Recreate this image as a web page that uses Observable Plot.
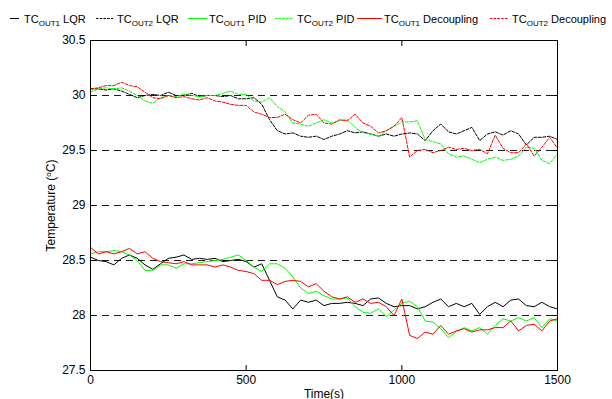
<!DOCTYPE html>
<html>
<head>
<meta charset="utf-8">
<script src="https://cdn.jsdelivr.net/npm/d3@7"></script>
<script src="https://cdn.jsdelivr.net/npm/@observablehq/plot@0.6"></script>
<style>
  body { margin: 0; background: #fff; font-family: "Liberation Sans", Arial, sans-serif; }
  #wrap { width: 612px; height: 399px; overflow: hidden; background: #fff; }
  #legend { display: block; }
  #chart svg { display: block; }
</style>
</head>
<body>
<div id="wrap">
  <svg id="legend" width="612" height="30"></svg>
  <div id="chart"></div>
</div>
<script>
// ---- data ----
const timeSec = [0,25,50,75,100,125,150,175,200,225,250,275,300,325,350,375,400,425,450,475,
  500,525,550,575,600,625,650,675,700,725,750,775,800,825,850,875,900,925,950,975,1000,
  1025,1050,1075,1100,1125,1150,1175,1200,1225,1250,1275,1300,1325,1350,1375,1400,1425,1450,1475,1500];

const out1LQR = [28.53,28.50,28.49,28.46,28.52,28.55,28.52,28.46,28.42,28.47,28.52,28.53,28.55,28.51,28.52,28.51,28.52,28.49,28.50,28.51,
  28.49,28.44,28.47,28.32,28.17,28.14,28.06,28.14,28.12,28.14,28.09,28.11,28.11,28.12,28.11,28.09,28.15,28.16,28.11,28.08,28.09,
  28.09,28.06,28.08,28.12,28.15,28.08,28.11,28.08,28.11,28.01,28.08,28.12,28.08,28.14,28.15,28.09,28.08,28.12,28.08,28.06];

const out2LQR = [30.06,30.06,30.05,30.06,30.04,30.01,29.98,30.00,30.01,30.00,30.03,30.00,30.00,30.02,29.99,30.00,30.00,29.99,30.00,29.97,
  29.97,29.98,29.92,29.78,29.68,29.65,29.66,29.63,29.62,29.63,29.60,29.63,29.65,29.68,29.66,29.67,29.65,29.63,29.65,29.63,29.65,
  29.66,29.65,29.59,29.68,29.74,29.67,29.65,29.68,29.71,29.59,29.65,29.67,29.64,29.68,29.65,29.55,29.62,29.62,29.63,29.60];

const out1PID = [28.56,28.58,28.58,28.59,28.58,28.55,28.50,28.41,28.41,28.46,28.46,28.43,28.47,28.47,28.48,28.49,28.50,28.51,28.53,28.55,
  28.50,28.44,28.40,28.47,28.47,28.43,28.35,28.25,28.20,28.22,28.18,28.15,28.15,28.16,28.08,28.03,28.02,28.06,27.99,28.05,28.11,
  28.13,28.08,27.95,27.94,27.88,27.80,27.85,27.89,27.86,27.89,27.83,27.91,27.97,27.95,27.98,27.95,27.98,27.89,27.97,27.95];

const out2PID = [30.03,30.06,30.07,30.06,30.07,30.04,30.00,29.95,29.93,29.98,30.00,29.99,30.01,30.00,29.99,30.00,30.00,30.02,30.04,30.01,
  30.01,29.95,29.94,29.98,29.90,29.85,29.75,29.74,29.72,29.75,29.78,29.75,29.77,29.78,29.71,29.66,29.65,29.63,29.68,29.72,29.76,
  29.76,29.77,29.60,29.58,29.56,29.47,29.44,29.45,29.42,29.39,29.42,29.44,29.41,29.42,29.45,29.53,29.52,29.41,29.38,29.47];

const out1Dec = [28.62,28.56,28.58,28.56,28.58,28.61,28.56,28.58,28.52,28.49,28.48,28.47,28.49,28.46,28.46,28.46,28.44,28.46,28.44,28.41,
  28.40,28.38,28.32,28.32,28.28,28.31,28.32,28.31,28.26,28.29,28.22,28.17,28.15,28.17,28.12,28.15,28.11,28.12,28.08,28.00,28.15,
  27.82,27.79,27.85,27.83,27.91,27.83,27.86,27.88,27.85,27.87,27.87,27.89,27.89,27.95,27.86,27.91,27.92,27.86,27.95,27.97];

const out2Dec = [30.06,30.07,30.09,30.09,30.12,30.09,30.08,30.03,29.98,29.97,30.00,29.98,29.99,29.97,29.96,29.98,29.95,29.94,29.92,29.91,
  29.91,29.85,29.83,29.80,29.80,29.83,29.78,29.75,29.82,29.83,29.75,29.74,29.78,29.77,29.83,29.75,29.72,29.66,29.68,29.72,29.80,
  29.44,29.50,29.51,29.48,29.50,29.53,29.51,29.52,29.50,29.51,29.47,29.64,29.52,29.48,29.48,29.56,29.45,29.53,29.62,29.52];

const seriesNames = ["OUT1 LQR", "OUT2 LQR", "OUT1 PID", "OUT2 PID", "OUT1 Decoupling", "OUT2 Decoupling"];
const seriesSub = ["OUT1", "OUT2", "OUT1", "OUT2", "OUT1", "OUT2"];
const seriesMethod = ["LQR", "LQR", "PID", "PID", "Decoupling", "Decoupling"];
const seriesValues = [out1LQR, out2LQR, out1PID, out2PID, out1Dec, out2Dec];
const seriesColors = ["#000000", "#000000", "#00ff00", "#00ff00", "#ff0000", "#ff0000"];
const seriesDashed = [false, true, false, true, false, true];

const xTicks = [0, 500, 1000, 1500];
const xTickLabels = ["0", "500", "1000", "1500"];
const yTicks = [27.5, 28, 28.5, 29, 29.5, 30, 30.5];
const yTickLabels = ["27.5", "28", "28.5", "29", "29.5", "30", "30.5"];
const gridValues = [28, 28.5, 29, 29.5, 30];

// ---- rows ----
const rows = [];
seriesValues.forEach((vals, s) => {
  vals.forEach((v, i) => rows.push({t: timeSec[i], v, s}));
});

const FONT = '"Liberation Sans", Arial, sans-serif';

// ---- legend ----
const legendPos = [
  {x1: 10, x2: 19, tx: 24},
  {x1: 96, x2: 113, tx: 117},
  {x1: 188, x2: 207, tx: 209},
  {x1: 275, x2: 293, tx: 297},
  {x1: 357, x2: 382, tx: 384},
  {x1: 490, x2: 508, tx: 512}
];
const NS = "http://www.w3.org/2000/svg";
const leg = document.getElementById("legend");
const order = [0, 1, 2, 3, 4, 5];
order.forEach((s, k) => {
  const p = legendPos[k];
  const ln = document.createElementNS(NS, "line");
  ln.setAttribute("x1", p.x1); ln.setAttribute("x2", p.x2);
  ln.setAttribute("y1", 18.5); ln.setAttribute("y2", 18.5);
  ln.setAttribute("stroke", seriesColors[s]);
  ln.setAttribute("stroke-width", 1);
  if (seriesDashed[s]) ln.setAttribute("stroke-dasharray", "2.5,1.2");
  leg.appendChild(ln);
  const tx = document.createElementNS(NS, "text");
  tx.setAttribute("x", p.tx); tx.setAttribute("y", 22.5);
  tx.setAttribute("font-family", FONT);
  tx.setAttribute("font-size", 11);
  tx.setAttribute("fill", "#000");
  tx.appendChild(document.createTextNode("TC"));
  const sub = document.createElementNS(NS, "tspan");
  sub.setAttribute("dy", 3); sub.setAttribute("font-size", 8);
  sub.textContent = seriesSub[s];
  tx.appendChild(sub);
  const rest = document.createElementNS(NS, "tspan");
  rest.setAttribute("dy", -3);
  rest.textContent = " " + seriesMethod[s];
  tx.appendChild(rest);
  leg.appendChild(tx);
});

// ---- chart ----
const lineMarks = [0, 1, 2, 3, 4, 5].map(s =>
  Plot.line(rows.filter(r => r.s === s), {
    x: "t", y: "v",
    stroke: seriesColors[s],
    strokeWidth: 1,
    strokeDasharray: seriesDashed[s] ? "3,1.5" : null
  })
);

const plot = Plot.plot({
  width: 612,
  height: 369,
  marginLeft: 90,
  marginRight: 55,
  marginTop: 10,
  marginBottom: 29,
  style: {fontFamily: FONT, fontSize: "12px", color: "#000", background: "#fff", overflow: "visible"},
  x: {domain: [0, 1500]},
  y: {domain: [27.5, 30.5]},
  marks: [
    Plot.gridY(gridValues, {stroke: "#1a1a1a", strokeOpacity: 1, strokeDasharray: "7,5"}),
    ...lineMarks,
    Plot.frame({stroke: "#000", strokeWidth: 1}),
    Plot.axisX(xTicks, {anchor: "bottom", tickSize: -5, tickPadding: 10, tickFormat: (d, i) => xTickLabels[i],
      label: "Time(s)", labelAnchor: "center", labelOffset: 27, labelArrow: "none"}),
    Plot.axisX(xTicks, {anchor: "top", tickSize: -5, tickFormat: () => "", label: null}),
    Plot.axisY(yTicks, {anchor: "left", tickSize: -5, tickPadding: 10, tickFormat: (d, i) => yTickLabels[i],
      label: "Temperature (oC)", labelAnchor: "center", labelOffset: 44, labelArrow: "none"}),
    Plot.axisY(yTicks, {anchor: "right", tickSize: -5, tickFormat: () => "", label: null})
  ]
});
document.getElementById("chart").appendChild(plot);

// superscript "o" in the y label
const yl = plot.querySelector('g[aria-label="y-axis label"] text');
if (yl) {
  while (yl.firstChild) yl.removeChild(yl.firstChild);
  yl.appendChild(document.createTextNode("Temperature ("));
  const sup = document.createElementNS(NS, "tspan");
  sup.setAttribute("dy", -4); sup.setAttribute("font-size", 8);
  sup.textContent = "o";
  yl.appendChild(sup);
  const rest = document.createElementNS(NS, "tspan");
  rest.setAttribute("dy", 4);
  rest.textContent = "C)";
  yl.appendChild(rest);
}
</script>
</body>
</html>
